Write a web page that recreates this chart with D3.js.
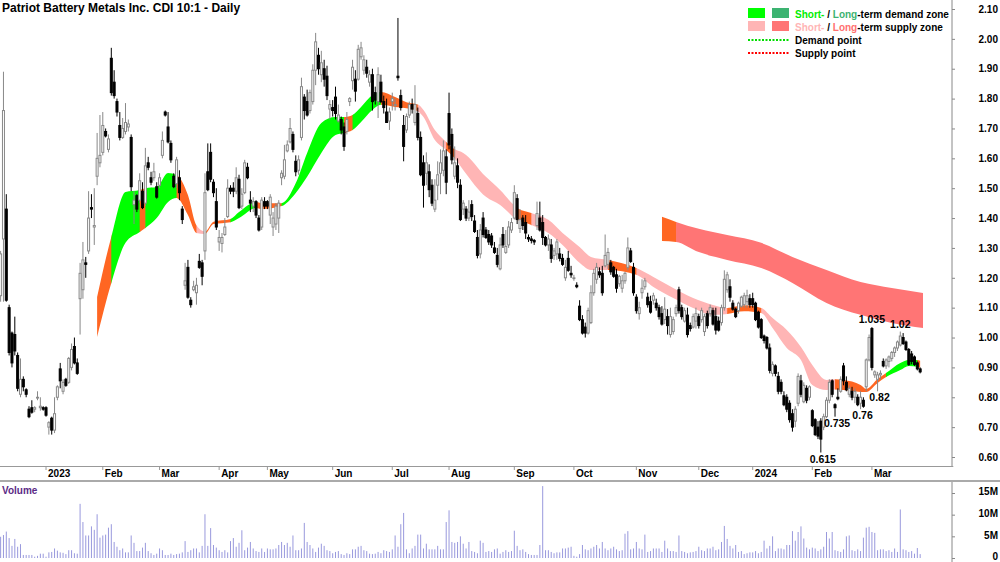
<!DOCTYPE html>
<html>
<head>
<meta charset="utf-8">
<script src="https://cdn.jsdelivr.net/npm/d3@7"></script>
<style>
  body { margin: 0; background: #fff; }
  svg { display: block; }
  text { font-family: "Liberation Sans", Arial, sans-serif; font-weight: bold; font-size: 10px; }
</style>
</head>
<body>
<svg id="chart" width="1000" height="562"></svg>
<script>
// month tick labels (first entry = partial Dec 2022, no tick)
var monthLabels = ["", "2023", "Feb", "Mar", "Apr", "May", "Jun", "Jul", "Aug", "Sep", "Oct", "Nov", "Dec", "2024", "Feb", "Mar"];

// daily bars per month: [open, high, low, close, volume (millions)]
var dec22 = [[1.14,1.29,1.12,1.28,4.9],[1.33,1.89,1.12,1.76,5.3],[1.43,1.48,1.12,1.125,6.1],[1.10,1.11,0.94,0.95,4.6],
  [1.015,1.02,0.90,0.915,2.8],[1.01,1.07,0.94,0.955,4.4],[0.94,0.95,0.82,0.83,2.6],[0.81,0.93,0.80,0.86,3.2],
  [0.86,0.87,0.82,0.835,0.7],[0.825,0.83,0.80,0.81,0.7],[0.76,0.77,0.73,0.735,0.7],[0.765,0.79,0.745,0.75,0.7],
  [0.76,0.77,0.75,0.765,0.3],[0.80,0.82,0.79,0.80,0.5],[0.765,0.80,0.755,0.77,1.0],[0.765,0.77,0.755,0.76,1.0]];
var jan23 = [[0.765,0.77,0.735,0.74,0.3],[0.70,0.72,0.675,0.715,1.3],[0.73,0.735,0.675,0.69,1.4],[0.69,0.80,0.68,0.745,2.2],
  [0.80,0.84,0.79,0.835,1.7],[0.895,0.915,0.83,0.855,1.3],[0.82,0.86,0.81,0.85,1.2],[0.86,0.865,0.835,0.84,0.9],
  [0.85,0.935,0.845,0.93,1.8],[0.90,0.98,0.89,0.96,1.8],[0.97,1.00,0.91,0.915,1.1],[0.915,0.93,0.875,0.88,1.0],
  [1.13,1.25,1.01,1.215,12.5],[1.16,1.32,1.13,1.26,8.3],[1.25,1.27,1.20,1.245,5.2],[1.29,1.49,1.28,1.40,5.2],
  [1.435,1.48,1.40,1.43,7.3],[1.37,1.50,1.31,1.375,6.5],[1.54,1.685,1.51,1.60,10.1],[1.585,1.745,1.57,1.61,4.7]];
var feb23 = [[1.62,1.755,1.61,1.71,5.2],[1.69,1.70,1.67,1.675,5.4],[1.63,1.68,1.62,1.665,7.0],[1.935,1.97,1.81,1.82,7.8],
  [1.855,1.895,1.80,1.81,3.7],[1.79,1.80,1.74,1.755,2.6],[1.71,1.755,1.66,1.67,1.8],[1.67,1.735,1.665,1.70,2.2],
  [1.69,1.785,1.68,1.72,1.3],[1.705,1.73,1.69,1.715,1.3],[1.67,1.68,1.49,1.505,5.2],[1.445,1.49,1.38,1.46,3.5],
  [1.475,1.48,1.42,1.43,1.6],[1.46,1.55,1.45,1.525,1.6],[1.49,1.52,1.43,1.435,2.4],[1.45,1.635,1.44,1.575,3.5],
  [1.585,1.605,1.56,1.57,1.6],[1.535,1.555,1.51,1.52,1.1],[1.535,1.585,1.525,1.555,0.7],[1.505,1.52,1.465,1.47,1.0]];
var mar23 = [[1.51,1.55,1.50,1.535,2.2],[1.61,1.69,1.60,1.66,1.8],[1.755,1.76,1.74,1.745,0.7],[1.705,1.755,1.65,1.655,0.7],
  [1.65,1.66,1.585,1.595,1.0],[1.54,1.55,1.50,1.505,0.7],[1.515,1.605,1.50,1.595,0.9],[1.535,1.56,1.46,1.485,1.0],
  [1.43,1.44,1.38,1.395,1.3],[1.175,1.25,1.16,1.19,3.9],[1.235,1.26,1.13,1.135,1.4],[1.125,1.135,1.10,1.11,1.8],
  [1.16,1.19,1.155,1.17,2.2],[1.15,1.20,1.11,1.175,2.2],[1.255,1.28,1.23,1.235,1.3],[1.25,1.26,1.175,1.205,2.8],
  [1.29,1.55,1.26,1.485,10.1],[1.555,1.65,1.49,1.495,2.8],[1.62,1.65,1.52,1.53,6.9],[1.52,1.53,1.47,1.485,3.0],
  [1.455,1.50,1.36,1.37,2.4]];
var apr23 = [[1.32,1.36,1.29,1.335,1.8],[1.315,1.35,1.285,1.335,1.4],[1.345,1.40,1.34,1.37,1.8],[1.405,1.53,1.40,1.50,1.3],
  [1.50,1.51,1.48,1.49,3.9],[1.50,1.52,1.47,1.49,4.6],[1.49,1.57,1.48,1.535,2.6],[1.53,1.545,1.43,1.435,3.5],
  [1.44,1.50,1.43,1.48,6.4],[1.485,1.595,1.48,1.585,1.8],[1.57,1.585,1.53,1.535,2.4],[1.46,1.49,1.42,1.45,3.7],
  [1.44,1.47,1.42,1.455,2.2],[1.455,1.46,1.40,1.41,1.6],[1.40,1.41,1.355,1.36,1.4],[1.37,1.47,1.36,1.46,2.2],
  [1.455,1.47,1.43,1.44,1.4]];
var may23 = [[1.455,1.46,1.43,1.44,2.2],[1.41,1.48,1.38,1.47,2.0],[1.37,1.42,1.34,1.40,2.0],[1.38,1.45,1.36,1.44,2.2],
  [1.40,1.46,1.35,1.45,3.0],[1.535,1.56,1.51,1.55,3.7],[1.54,1.645,1.53,1.595,3.0],[1.625,1.66,1.62,1.645,3.5],
  [1.655,1.735,1.65,1.70,2.6],[1.68,1.69,1.62,1.63,5.2],[1.59,1.61,1.54,1.555,1.8],[1.56,1.61,1.545,1.595,1.8],
  [1.67,1.87,1.66,1.84,2.2],[1.805,1.815,1.73,1.76,8.1],[1.79,1.83,1.74,1.745,3.7],[1.76,1.83,1.75,1.82,3.0],
  [1.79,1.915,1.78,1.895,2.2],[1.895,2.02,1.845,1.99,1.4],[1.945,1.97,1.88,1.90,2.4],[1.88,1.96,1.855,1.92,3.3],
  [1.90,1.93,1.84,1.865,2.8],[1.875,1.91,1.795,1.81,1.8],[1.765,1.795,1.73,1.78,1.6]];
var jun23 = [[1.77,1.795,1.74,1.76,1.1],[1.805,1.84,1.73,1.75,1.4],[1.725,1.78,1.72,1.745,1.6],[1.73,1.74,1.68,1.695,0.9],
  [1.705,1.72,1.625,1.64,0.7],[1.69,1.755,1.68,1.73,1.1],[1.79,1.805,1.775,1.80,0.9],[1.86,1.93,1.83,1.905,2.0],
  [1.865,1.895,1.79,1.825,2.0],[1.865,1.98,1.86,1.965,2.6],[1.94,1.99,1.93,1.97,2.8],[1.895,1.945,1.88,1.93,1.8],
  [1.905,1.93,1.87,1.885,1.6],[1.855,1.895,1.84,1.88,1.0],[1.88,1.90,1.76,1.79,0.9],[1.82,1.84,1.78,1.795,1.0],
  [1.79,1.905,1.735,1.88,1.4],[1.855,1.88,1.785,1.79,1.1],[1.79,1.81,1.75,1.77,1.8],[1.755,1.80,1.72,1.72,1.6],
  [1.725,1.77,1.695,1.755,1.4]];
var jul23 = [[1.79,1.82,1.76,1.80,2.0],[1.78,1.80,1.76,1.78,5.2],[1.875,2.07,1.86,1.87,2.6],[1.81,1.83,1.76,1.77,7.8],
  [1.71,1.745,1.59,1.64,10.4],[1.695,1.75,1.685,1.74,2.0],[1.745,1.79,1.735,1.78,1.1],[1.78,1.80,1.75,1.765,2.2],
  [1.72,1.845,1.71,1.78,2.8],[1.75,1.77,1.66,1.67,5.4],[1.67,1.69,1.54,1.545,5.4],[1.585,1.61,1.435,1.51,2.2],
  [1.55,1.62,1.51,1.585,3.3],[1.555,1.58,1.47,1.495,2.0],[1.51,1.53,1.44,1.45,2.0],[1.43,1.53,1.42,1.46,2.0],
  [1.51,1.59,1.46,1.545,2.8],[1.55,1.63,1.48,1.585,2.0],[1.56,1.66,1.54,1.625,2.0],[1.605,1.63,1.48,1.52,8.3]];
var aug23 = [[1.75,1.82,1.63,1.645,11.0],[1.68,1.70,1.58,1.595,3.7],[1.54,1.64,1.53,1.585,3.5],[1.575,1.60,1.50,1.52,3.7],
  [1.51,1.53,1.39,1.395,5.0],[1.43,1.46,1.41,1.45,3.3],[1.43,1.44,1.39,1.40,2.2],[1.40,1.46,1.39,1.42,3.7],
  [1.445,1.46,1.39,1.405,1.6],[1.39,1.41,1.35,1.355,1.4],[1.335,1.36,1.265,1.275,1.1],[1.28,1.38,1.265,1.36,4.0],
  [1.40,1.42,1.335,1.345,3.5],[1.36,1.37,1.33,1.335,1.4],[1.345,1.36,1.31,1.32,1.6],[1.34,1.35,1.30,1.31,1.4],
  [1.30,1.32,1.28,1.285,2.0],[1.275,1.30,1.235,1.245,2.2],[1.23,1.335,1.225,1.31,1.0],[1.345,1.37,1.30,1.31,1.4],
  [1.285,1.36,1.28,1.305,1.8],[1.31,1.39,1.30,1.37,1.4],[1.36,1.40,1.35,1.385,1.6]];
var sep23 = [[1.40,1.51,1.395,1.485,6.3],[1.465,1.48,1.38,1.395,2.8],[1.365,1.43,1.35,1.395,1.8],[1.40,1.41,1.36,1.375,2.0],
  [1.385,1.41,1.33,1.35,1.4],[1.335,1.345,1.32,1.33,0.9],[1.33,1.34,1.315,1.325,0.7],[1.325,1.33,1.31,1.32,0.7],
  [1.375,1.455,1.36,1.415,0.7],[1.40,1.455,1.355,1.36,3.0],[1.385,1.41,1.31,1.335,16.6],[1.335,1.34,1.305,1.31,1.8],
  [1.31,1.345,1.29,1.33,1.8],[1.31,1.33,1.25,1.265,1.4],[1.275,1.30,1.26,1.29,1.1],[1.28,1.33,1.26,1.32,1.3],
  [1.28,1.30,1.255,1.265,1.3],[1.265,1.28,1.24,1.245,2.2],[1.20,1.26,1.19,1.235,2.2],[1.265,1.29,1.22,1.225,2.4],
  [1.215,1.24,1.20,1.21,2.6]];
var oct23 = [[1.20,1.21,1.19,1.20,0.5],[1.175,1.185,1.165,1.17,0.3],[1.105,1.125,1.055,1.06,0.9],[1.06,1.075,1.01,1.015,3.0],
  [1.035,1.05,1.00,1.015,2.0],[1.015,1.10,1.01,1.09,1.8],[1.05,1.175,1.045,1.15,2.2],[1.15,1.23,1.14,1.215,2.6],
  [1.195,1.25,1.18,1.235,3.0],[1.22,1.235,1.20,1.21,2.2],[1.215,1.24,1.14,1.15,3.7],[1.24,1.345,1.235,1.275,2.2],
  [1.245,1.30,1.23,1.285,1.8],[1.25,1.26,1.21,1.22,2.2],[1.235,1.24,1.20,1.205,2.6],[1.21,1.23,1.15,1.165,2.0],
  [1.18,1.21,1.17,1.205,1.6],[1.165,1.21,1.15,1.19,1.8],[1.19,1.22,1.18,1.215,5.6],[1.235,1.335,1.225,1.30,6.2],
  [1.29,1.30,1.25,1.255,2.0],[1.235,1.25,1.14,1.15,2.2]];
var nov23 = [[1.135,1.145,1.08,1.09,3.7],[1.08,1.12,1.06,1.10,2.2],[1.15,1.195,1.13,1.165,2.0],[1.17,1.20,1.16,1.19,5.4],
  [1.135,1.15,1.10,1.11,1.4],[1.12,1.14,1.08,1.085,1.6],[1.125,1.15,1.11,1.14,2.2],[1.115,1.13,1.09,1.10,2.2],
  [1.10,1.11,1.06,1.07,2.2],[1.08,1.105,1.04,1.045,1.4],[1.06,1.135,1.045,1.095,4.0],[1.07,1.095,1.01,1.04,2.2],
  [1.01,1.10,1.00,1.07,1.6],[1.02,1.07,1.01,1.06,1.6],[1.08,1.11,1.07,1.10,1.4],[1.16,1.17,1.08,1.09,5.2],
  [1.10,1.11,1.06,1.07,1.6],[1.055,1.10,1.05,1.09,1.4],[1.075,1.10,1.00,1.01,1.1],[1.04,1.05,1.02,1.03,1.3],
  [1.035,1.08,1.03,1.07,1.4],[1.055,1.10,1.03,1.08,1.6]];
var dec23 = [[1.07,1.08,1.03,1.04,2.6],[1.06,1.10,1.05,1.09,1.8],[1.02,1.08,1.005,1.07,1.6],[1.08,1.09,1.03,1.04,2.2],
  [1.08,1.11,1.07,1.10,2.2],[1.09,1.10,1.04,1.045,2.6],[1.07,1.10,1.01,1.025,1.8],[1.055,1.07,1.02,1.025,2.0],
  [1.05,1.11,1.04,1.10,3.7],[1.10,1.225,1.09,1.195,7.4],[1.16,1.22,1.15,1.21,4.4],[1.17,1.195,1.12,1.135,2.8],
  [1.115,1.125,1.09,1.095,2.2],[1.095,1.10,1.065,1.07,3.0],[1.09,1.12,1.08,1.115,1.4],[1.105,1.14,1.10,1.135,1.6],
  [1.11,1.15,1.10,1.14,0.9],[1.12,1.16,1.10,1.14,1.1],[1.13,1.145,1.10,1.11,1.3]];
var jan24 = [[1.13,1.15,1.10,1.11,1.3],[1.115,1.12,1.055,1.06,1.6],[1.085,1.09,1.03,1.035,1.1],[1.06,1.065,0.995,1.00,1.4],
  [1.005,1.01,0.98,0.99,4.0],[1.00,1.005,0.96,0.965,2.2],[0.965,0.98,0.88,0.89,2.8],[0.88,0.92,0.87,0.91,5.0],
  [0.905,0.91,0.87,0.88,1.6],[0.87,0.885,0.81,0.82,2.2],[0.85,0.86,0.81,0.82,2.2],[0.805,0.82,0.77,0.775,2.0],
  [0.80,0.81,0.75,0.76,3.0],[0.78,0.79,0.715,0.725,3.0],[0.745,0.76,0.685,0.70,6.2],[0.72,0.77,0.70,0.76,4.0],
  [0.78,0.88,0.77,0.87,6.0],[0.855,0.875,0.80,0.81,7.3],[0.785,0.85,0.78,0.84,4.5],[0.83,0.84,0.78,0.79,2.4],
  [0.80,0.84,0.79,0.835,2.0]];
var feb24 = [[0.755,0.76,0.70,0.705,2.4],[0.725,0.73,0.67,0.675,2.2],[0.70,0.72,0.66,0.67,1.6],[0.72,0.73,0.615,0.66,2.0],
  [0.70,0.745,0.69,0.735,2.6],[0.735,0.80,0.73,0.79,6.0],[0.79,0.86,0.78,0.85,4.5],[0.855,0.86,0.80,0.81,6.0],
  [0.775,0.78,0.735,0.765,1.8],[0.80,0.83,0.79,0.795,1.6],[0.82,0.87,0.815,0.86,1.4],[0.905,0.915,0.84,0.855,2.0],
  [0.85,0.87,0.82,0.825,5.0],[0.81,0.84,0.80,0.83,5.2],[0.82,0.835,0.79,0.80,1.8],[0.80,0.83,0.78,0.82,1.6],
  [0.80,0.81,0.77,0.775,2.0],[0.78,0.82,0.76,0.80,1.6],[0.79,0.80,0.765,0.77,4.7],[0.835,0.93,0.82,0.925,7.0],
  [0.925,1.01,0.92,1.00,7.2]];
var mar24 = [[1.03,1.035,0.89,0.90,6.0],[0.875,0.89,0.865,0.885,5.8],[0.86,0.885,0.82,0.875,1.8],[0.875,0.89,0.86,0.88,2.0],
  [0.92,0.93,0.90,0.905,2.0],[0.905,0.93,0.895,0.925,1.6],[0.92,0.94,0.90,0.935,1.8],[0.93,0.955,0.92,0.95,1.4],
  [0.95,0.97,0.935,0.965,2.2],[0.965,0.99,0.955,0.985,1.4],[0.975,1.02,0.97,1.005,11.2],[1.00,1.015,0.975,0.98,2.0],
  [0.985,0.99,0.955,0.96,1.8],[0.96,0.965,0.905,0.91,1.4],[0.945,0.955,0.91,0.92,1.6],[0.935,0.94,0.905,0.91,1.0],
  [0.915,0.92,0.89,0.895,2.3],[0.895,0.90,0.88,0.885,0.9]];

// short-term zone: [bar index, upper, lower, state of following segment]
var shortZone = [[34,1.136,1.002,"o"],[39,1.337,1.183,"g"],[44,1.487,1.317,"g"],[49,1.494,1.353,"o"],[51,1.50,1.367,"g"],
  [55,1.504,1.40,"g"],[59,1.551,1.454,"g"],[62,1.544,1.467,"o"],[66,1.477,1.41,"o"],[69,1.375,1.35,"p"],[72,1.355,1.347,"o"],
  [75,1.388,1.38,"o"],[81,1.397,1.386,"g"],[84,1.42,1.40,"g"],[90,1.454,1.434,"o"],[92,1.45,1.43,"o"],[99,1.45,1.44,"g"],
  [104,1.517,1.484,"g"],[108,1.618,1.538,"g"],[113,1.718,1.618,"g"],[118,1.738,1.678,"g"],[121,1.738,1.685,"o"],
  [124,1.745,1.695,"g"],[127,1.772,1.722,"g"],[131,1.812,1.762,"g"],[134,1.822,1.779,"o"],[139,1.805,1.772,"o"],
  [143,1.788,1.768,"o"],[147,1.78,1.758,"p"],[149,1.762,1.738,"p"],[153,1.695,1.661,"p"],[157,1.655,1.628,"o"],
  [160,1.63,1.60,"p"],[163,1.618,1.561,"p"],[171,1.538,1.471,"p"],[176,1.494,1.444,"p"],[182,1.434,1.394,"o"],
  [187,1.417,1.377,"p"],[193,1.394,1.35,"p"],[198,1.35,1.31,"p"],[204,1.303,1.25,"p"],[208,1.27,1.226,"p"],
  [214,1.26,1.226,"o"],[224,1.233,1.21,"p"],[230,1.203,1.169,"p"],[237,1.166,1.132,"p"],[244,1.132,1.099,"p"],
  [251,1.109,1.076,"p"],[256,1.099,1.079,"o"],[262,1.108,1.088,"o"],[268,1.099,1.082,"p"],[272,1.065,1.032,"p"],
  [277,1.025,0.965,"p"],[282,0.968,0.925,"p"],[286,0.908,0.841,"p"],[291,0.858,0.824,"p"],[294,0.86,0.826,"o"],
  [297,0.858,0.824,"o"],[303,0.841,0.818,"o"],[305,0.828,0.818,"o"],[309,0.861,0.848,"o"],[312,0.881,0.868,"g"],
  [317,0.915,0.891,"g"],[320,0.925,0.905,"g"],[323,0.925,0.902,"o"],[324,0.922,0.899,"o"]];
// long-term zone
var longZone = [[233,1.404,1.323,"o"],[238,1.387,1.32,"r"],[246,1.364,1.286,"r"],[256,1.343,1.26,"r"],[268,1.317,1.233,"r"],
  [279,1.27,1.183,"r"],[291,1.226,1.116,"r"],[303,1.186,1.076,"r"],[314,1.166,1.049,"r"],[325,1.149,1.032,"r"]];

var priceTicks = [0.60,0.70,0.80,0.90,1.00,1.10,1.20,1.30,1.40,1.50,1.60,1.70,1.80,1.90,2.00,2.10];
var volTicks = [0, 5, 10, 15];
var volTickLabels = ["0", "5M", "10M", "15M"];

// marked points: [month array, bar in month, side]
var pointLabels = [[feb24,3,"low"],[feb24,8,"low"],[feb24,17,"low"],[mar24,2,"low"],[mar24,0,"high"],[mar24,10,"high"]];

var zoneColors = {g: "#00FF00", o: "#FF6622", p: "#FFB5B5", r: "#FF7575"};

var months = [dec22, jan23, feb23, mar23, apr23, may23, jun23, jul23, aug23, sep23, oct23, nov23, dec23, jan24, feb24, mar24];
var bars = [];
var monthStart = [];
months.forEach(function (m) {
  monthStart.push(bars.length);
  m.forEach(function (r) {
    bars.push({i: bars.length, o: r[0], h: r[1], l: r[2], c: r[3], v: r[4]});
  });
});

var svg = d3.select("#chart");
var defs = svg.append("defs");

var x = d3.scaleBand().domain(d3.range(336)).range([-0.8, 952.8]);
var bw = x.bandwidth();
function cx(i) { return x(i) + bw / 2; }
var xl = d3.scaleLinear().domain([0, 335]).range([cx(0), cx(335)]);
var y = d3.scaleLinear().domain([0.6, 2.1]).range([457, 9]);
var yv = d3.scaleLinear().domain([0, 15]).range([558, 493]);

// zones
var clipCount = 0;
function drawZone(points) {
  var area = d3.area()
    .x(function (d) { return xl(d[0]); })
    .y0(function (d) { return y(d[2]); })
    .y1(function (d) { return y(d[1]); })
    .curve(d3.curveMonotoneX);
  var runs = [];
  points.forEach(function (p, k) {
    if (k === points.length - 1) return;
    var last = runs[runs.length - 1];
    if (last && last.s === p[3]) last.end = points[k + 1][0];
    else runs.push({s: p[3], start: p[0], end: points[k + 1][0]});
  });
  runs.forEach(function (run) {
    var id = "zclip" + (clipCount++);
    defs.append("clipPath").attr("id", id).append("rect")
      .attr("x", xl(run.start)).attr("y", 0)
      .attr("width", xl(run.end) - xl(run.start) + 0.6).attr("height", 470);
    svg.append("path").datum(points)
      .attr("d", area)
      .attr("fill", zoneColors[run.s])
      .attr("clip-path", "url(#" + id + ")");
  });
}
drawZone(longZone);
drawZone(shortZone);

// candles
var candles = svg.append("g").selectAll("g").data(bars).enter().append("g");
candles.append("line")
  .attr("x1", function (d) { return cx(d.i); })
  .attr("x2", function (d) { return cx(d.i); })
  .attr("y1", function (d) { return y(d.h); })
  .attr("y2", function (d) { return y(d.l); })
  .attr("stroke", function (d) { return d.c >= d.o ? "#888" : "#000"; })
  .attr("stroke-width", 1);
candles.append("rect")
  .attr("x", function (d) { return cx(d.i) - 1; })
  .attr("width", 2)
  .attr("y", function (d) { return y(Math.max(d.o, d.c)); })
  .attr("height", function (d) { return Math.max(0.8, Math.abs(y(d.o) - y(d.c))); })
  .attr("fill", function (d) { return d.c >= d.o ? "#fff" : "#000"; })
  .attr("stroke", function (d) { return d.c >= d.o ? "#888" : "#000"; })
  .attr("stroke-width", 1);

// point labels
pointLabels.forEach(function (p) {
  var b = bars[monthStart[months.indexOf(p[0])] + p[1]];
  var v = p[2] === "low" ? b.l : b.h;
  svg.append("text")
    .attr("x", cx(b.i) + (p[2] === "low" ? 2 : 0))
    .attr("y", p[2] === "low" ? y(v) + 10 : y(v) - 4)
    .attr("text-anchor", "middle")
    .style("font-size", "10.5px")
    .text(String(v));
});

// x axis
var xAxis = svg.append("g").attr("transform", "translate(0,466)")
  .call(d3.axisBottom(x)
    .tickValues(monthStart.slice(1))
    .tickFormat(function (d, k) { return monthLabels[k + 1]; })
    .tickSize(4).tickSizeOuter(0));
xAxis.select(".domain").attr("stroke", "#999");
xAxis.selectAll(".tick line").attr("stroke", "#999");
xAxis.selectAll(".tick text").attr("text-anchor", "start").attr("x", 2).attr("y", 4)
  .attr("fill", "#000").style("font-size", "10px").style("font-family", "'Liberation Sans', Arial, sans-serif");

svg.append("line").attr("x1", 0).attr("x2", 1000).attr("y1", 481).attr("y2", 481)
  .attr("stroke", "#aaa").attr("stroke-width", 2);

// price axis
svg.append("line").attr("x1", 952).attr("x2", 952).attr("y1", 0).attr("y2", 466).attr("stroke", "#888");
var yAxis = svg.append("g").attr("transform", "translate(952,0)")
  .call(d3.axisRight(y).tickValues(priceTicks).tickFormat(d3.format(".2f")).tickSize(3).tickSizeOuter(0));
yAxis.select(".domain").remove();
yAxis.selectAll(".tick line").attr("stroke", "#888");
yAxis.selectAll(".tick text").attr("text-anchor", "end").attr("x", 46)
  .attr("fill", "#000").style("font-size", "10px").style("font-family", "'Liberation Sans', Arial, sans-serif");

// volume
svg.append("text").attr("x", 2).attr("y", 494).attr("fill", "#5B2A86").text("Volume");
svg.append("g").selectAll("rect").data(bars).enter().append("rect")
  .attr("x", function (d) { return cx(d.i) - 0.5; })
  .attr("width", 1)
  .attr("y", function (d) { return yv(d.v); })
  .attr("height", function (d) { return yv(0) - yv(d.v); })
  .attr("fill", "#9999DD");
svg.append("line").attr("x1", 952).attr("x2", 952).attr("y1", 482).attr("y2", 562).attr("stroke", "#888");
var vAxis = svg.append("g").attr("transform", "translate(952,0)")
  .call(d3.axisRight(yv).tickValues(volTicks)
    .tickFormat(function (d, k) { return volTickLabels[k]; }).tickSize(3).tickSizeOuter(0));
vAxis.select(".domain").remove();
vAxis.selectAll(".tick line").attr("stroke", "#888");
vAxis.selectAll(".tick text").attr("text-anchor", "end").attr("x", 46).attr("y", -1.5)
  .attr("fill", "#000").style("font-size", "10px").style("font-family", "'Liberation Sans', Arial, sans-serif");

// title
svg.append("text").attr("x", 2).attr("y", 12).style("font-size", "12px")
  .text("Patriot Battery Metals Inc. CDI 10:1 - Daily");

// legend
var legend = svg.append("g");
legend.append("rect").attr("x", 748).attr("y", 8).attr("width", 17).attr("height", 10).attr("fill", zoneColors.g);
legend.append("rect").attr("x", 772).attr("y", 8).attr("width", 17).attr("height", 10).attr("fill", "#3CB371");
legend.append("rect").attr("x", 748).attr("y", 21).attr("width", 17).attr("height", 10).attr("fill", zoneColors.p);
legend.append("rect").attr("x", 772).attr("y", 21).attr("width", 17).attr("height", 10).attr("fill", zoneColors.r);
legend.append("line").attr("x1", 748).attr("x2", 789).attr("y1", 40).attr("y2", 40)
  .attr("stroke", "#00DD00").attr("stroke-width", 2).attr("stroke-dasharray", "2,1.5");
legend.append("line").attr("x1", 748).attr("x2", 789).attr("y1", 53).attr("y2", 53)
  .attr("stroke", "#FF0000").attr("stroke-width", 2).attr("stroke-dasharray", "2,1.5");

var t1 = legend.append("text").attr("x", 795).attr("y", 17.5);
t1.append("tspan").attr("fill", "#00EE00").text("Short-");
t1.append("tspan").attr("fill", "#000").text(" / ");
t1.append("tspan").attr("fill", "#3CB371").text("Long");
t1.append("tspan").attr("fill", "#000").text("-term demand zone");
var t2 = legend.append("text").attr("x", 795).attr("y", 30.5);
t2.append("tspan").attr("fill", "#FFB5B5").text("Short-");
t2.append("tspan").attr("fill", "#000").text(" / ");
t2.append("tspan").attr("fill", "#FF7070").text("Long");
t2.append("tspan").attr("fill", "#000").text("-term supply zone");
legend.append("text").attr("x", 795).attr("y", 43.5).text("Demand point");
legend.append("text").attr("x", 795).attr("y", 56.5).text("Supply point");
</script>
</body>
</html>
